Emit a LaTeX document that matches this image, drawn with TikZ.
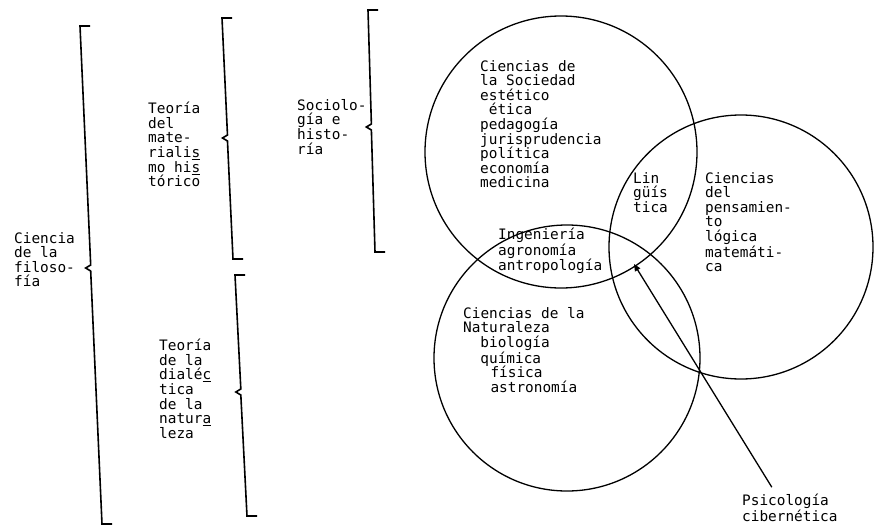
\documentclass[tikz,border=0pt]{standalone}
\usepackage{fontspec}
\newfontfamily\maquina{DejaVu Sans Mono}
\usetikzlibrary{arrows.meta}

\tikzset{
  texto/.style={font=\maquina\fontsize{14.4}{14.6}\selectfont,
                align=left, inner sep=0pt, anchor=north west},
  llave/.style={line width=1.6pt, line join=miter},
  circulo/.style={line width=1.3pt},
}

% corchete: x arriba, y arriba, x abajo, y abajo, y del pico
\newcommand{\corchete}[5]{%
  \pgfmathsetmacro\picox{#1+(#3-#1)*(#5-#2)/(#4-#2)}
  \draw[llave] (#1+10,#2) -- (#1,#2) -- (\picox,#5-3)
    -- (\picox-5,#5) -- (\picox,#5+3) -- (#3,#4) -- (#3+10,#4);
}

\begin{document}
\begin{tikzpicture}[x=1pt,y=-1pt]
  \useasboundingbox (0,0) rectangle (876,527);

  % --- corchetes ---
  \corchete{80}{26}{102}{524}{268}
  \corchete{222}{18}{233}{259}{138}
  \corchete{235}{275}{247}{516}{392}
  \corchete{368}{10}{375}{252}{127}

  % --- textos de los corchetes ---
  \node[texto] (filosofia) at (14,232) {Ciencia\\de la\\filoso-\\fía};
  \node[texto] (histmat) at (148,102)
        {Teoría\\del\\mate-\\riali\underline{s}\\mo hi\underline{s}\\tórico};
  \node[texto] (dialnat) at (159,339)
        {Teoría\\de la\\dialé\underline{c}\\tica\\de la\\natur\underline{a}\\leza};
  \node[texto] (sociol) at (297,99) {Sociolo-\\gía e\\histo-\\ría};

  % --- circulos ---
  \draw[circulo] (561,152) circle[radius=136pt];
  \draw[circulo] (567,358) circle[radius=133pt];
  \draw[circulo] (741,247) circle[radius=132pt];

  % --- textos de los circulos ---
  \node[texto] (sociedad) at (480,60)
        {Ciencias de\\la Sociedad\\estético\\\hspace*{0.6em}ética\\pedagogía\\jurisprudencia\\política\\economía\\medicina};
  \node[texto] (ling) at (633,172) {Lin\\güís\\tica};
  \node[texto] (ingen) at (498,228) {Ingeniería\\agronomía\\antropología};
  \node[texto] (natur) at (463,307)
        {Ciencias de la\\Naturaleza\\\hspace*{1.2em}biología\\\hspace*{1.2em}química\\\hspace*{1.9em}física\\\hspace*{1.9em}astronomía};
  \node[texto] (pensam) at (705,172)
        {Ciencias\\del\\pensamien-\\to\\lógica\\matemáti-\\ca};

  % --- flecha ---
  \coordinate (punta) at (634,264);
  \node[texto] (psico) at (742,494) {Psicología\\cibernética};
  \draw[circulo,-{Triangle[length=7pt,width=6pt]},shorten <=8pt]
        (psico.135) -- (punta);

\end{tikzpicture}
\end{document}
